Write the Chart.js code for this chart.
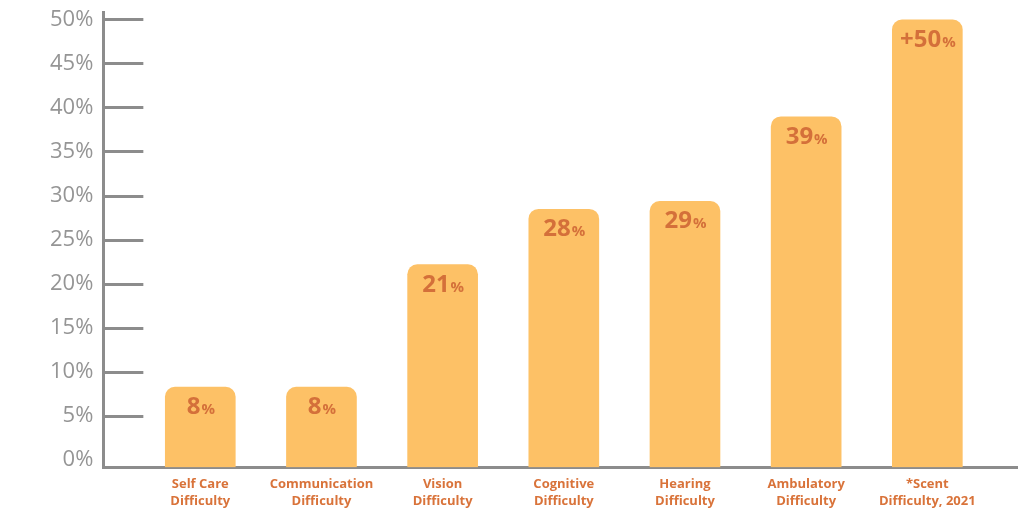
<!DOCTYPE html>
<html>
<head>
<meta charset="utf-8">
<script src="https://cdn.jsdelivr.net/npm/chart.js@4"></script>
<style>
  html, body { margin: 0; padding: 0; background: #fff; }
  #wrap { width: 1024px; height: 529px; }
</style>
</head>
<body>
<div id="wrap"><canvas id="difficultyChart"></canvas></div>
<script>
// Dane wykresu
const categories = [
    ['Self Care', 'Difficulty'],
    ['Communication', 'Difficulty'],
    ['Vision', 'Difficulty'],
    ['Cognitive', 'Difficulty'],
    ['Hearing', 'Difficulty'],
    ['Ambulatory', 'Difficulty'],
    ['*Scent', 'Difficulty, 2021']
];
const barHeights = [8.3, 8.3, 22.2, 28.5, 29.4, 39, 50];
const valueLabels = ['8', '8', '21', '28', '29', '39', '+50'];
const yTicks = [0, 5, 10, 15, 20, 25, 30, 35, 40, 45, 50];

const yMin = -0.8;
const yMax = 50.9;
const gray = '#8c8c8c';
const orange = '#d9733a';

// Etykiety wartosci na slupkach
const valueLabelPlugin = {
    id: 'valueLabels',
    afterDatasetsDraw(chart) {
        const c = chart.ctx;
        const meta = chart.getDatasetMeta(0);
        meta.data.forEach(function (bar, i) {
            const num = valueLabels[i];
            c.save();
            c.fillStyle = '#d4703a';
            c.textBaseline = 'alphabetic';
            c.font = 'bold 24px "Open Sans"';
            const w1 = c.measureText(num).width;
            c.font = 'bold 15px "Open Sans"';
            const w2 = c.measureText('%').width;
            const x0 = bar.x - (w1 + w2) / 2;
            const yb = bar.y + 27;
            c.font = 'bold 24px "Open Sans"';
            c.textAlign = 'left';
            c.fillText(num, x0, yb);
            c.font = 'bold 15px "Open Sans"';
            c.fillText('%', x0 + w1 + 1, yb);
            c.restore();
        });
    }
};

const ctx = document.getElementById('difficultyChart').getContext('2d');

const myChart = new Chart(ctx, {
    type: 'bar',
    data: {
        datasets: [{
            data: barHeights.map(function (v, i) { return { x: i, y: v }; }),
            backgroundColor: '#fdc166',
            borderRadius: 10,
            borderSkipped: 'bottom',
            barThickness: 70,
            base: yMin
        }]
    },
    options: {
        responsive: true,
        maintainAspectRatio: false,
        animation: false,
        layout: {
            padding: { top: 12, right: 7, bottom: 10, left: 0 }
        },
        plugins: {
            legend: { display: false },
            tooltip: { enabled: false }
        },
        scales: {
            x: {
                type: 'linear',
                offset: false,
                min: -0.8,
                max: 6.74,
                grid: { display: true, offset: false, drawOnChartArea: false, drawTicks: false },
                border: { display: true, color: gray, width: 3 },
                ticks: {
                    stepSize: 1,
                    includeBounds: false,
                    autoSkip: false,
                    maxRotation: 0,
                    padding: 9,
                    color: orange,
                    font: { family: '"Open Sans"', size: 13, weight: 'bold', lineHeight: 1.3 },
                    callback: function (value) {
                        return categories[value] || '';
                    }
                }
            },
            y: {
                min: yMin,
                max: yMax,
                afterBuildTicks: function (scale) {
                    scale.ticks = yTicks.map(function (v) { return { value: v }; });
                },
                afterFit: function (scale) {
                    // duzy padding etykiet nie powinien zmniejszac wysokosci
                    scale.paddingTop = 0;
                    scale.paddingBottom = 0;
                },
                grid: {
                    drawOnChartArea: false,
                    drawTicks: true,
                    tickLength: -40,
                    lineWidth: 3,
                    color: function (c) {
                        return c.tick && c.tick.value === 0 ? 'rgba(0,0,0,0)' : gray;
                    }
                },
                border: { display: true, color: gray, width: 3 },
                ticks: {
                    padding: 50,
                    color: '#959595',
                    font: { family: '"Open Sans"', size: 22, weight: 'normal' },
                    callback: function (value) {
                        return value + '%';
                    }
                }
            }
        }
    },
    plugins: [valueLabelPlugin]
});
</script>
</body>
</html>
